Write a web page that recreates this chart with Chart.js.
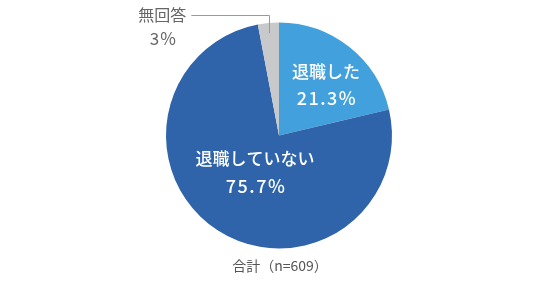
<!DOCTYPE html>
<html>
<head>
<meta charset="utf-8">
<script src="https://cdn.jsdelivr.net/npm/chart.js@4"></script>
<style>
  html, body { margin: 0; padding: 0; background: #fff; }
  #wrap { width: 560px; height: 284px; position: relative; }
</style>
</head>
<body>
<div id="wrap"><canvas id="pie-chart" width="560" height="284"></canvas></div>
<script>
// Chart data
var categories = ['退職した', '退職していない', '無回答'];
var values = [21.3, 75.7, 3];
var valueLabels = ['21.3%', '75.7%', '3%'];
var totalLabel = '合計（n=609）';

var sliceColors = ['#42a1dd', '#2f64aa', '#c8c9cb'];
var fontFamily = '"Noto Sans CJK JP", "Noto Sans", sans-serif';

// Draws the in-slice labels, the callout for the small slice and the total
var labelPlugin = {
  id: 'pieLabels',
  afterDatasetsDraw: function (chart) {
    var ctx = chart.ctx;
    var arcs = chart.getDatasetMeta(0).data;
    // per slice: radius fraction and angle shift (radians) of the label block
    var inside = [
      { r: 0.61, shift: 0.08 },
      { r: 0.39, shift: 0.0 }
    ];

    ctx.save();
    ctx.textAlign = 'center';
    ctx.textBaseline = 'middle';
    ctx.fillStyle = '#ffffff';
    for (var i = 0; i < inside.length; i++) {
      var a = arcs[i];
      var mid = (a.startAngle + a.endAngle) / 2 + inside[i].shift;
      var x = a.x + Math.cos(mid) * a.outerRadius * inside[i].r;
      var y = a.y + Math.sin(mid) * a.outerRadius * inside[i].r;
      ctx.letterSpacing = '0px';
      ctx.font = '500 17px ' + fontFamily;
      ctx.fillText(categories[i], x, y - 13.5);
      ctx.letterSpacing = '1.5px';
      ctx.font = '500 18px ' + fontFamily;
      ctx.fillText(valueLabels[i], x + 1, y + 13.5);
    }

    // callout for the small slice
    var s = arcs[2];
    var m = (s.startAngle + s.endAngle) / 2;
    var px = s.x + Math.cos(m) * s.outerRadius * 0.91;
    var py = s.y + Math.sin(m) * s.outerRadius * 0.91;
    var topY = s.y - s.outerRadius - 8;
    var endX = px - 78;
    ctx.strokeStyle = '#999999';
    ctx.lineWidth = 1;
    ctx.beginPath();
    ctx.moveTo(Math.round(px) + 0.5, py);
    ctx.lineTo(Math.round(px) + 0.5, Math.round(topY) + 0.5);
    ctx.lineTo(endX, Math.round(topY) + 0.5);
    ctx.stroke();

    ctx.fillStyle = '#666666';
    ctx.letterSpacing = '0px';
    ctx.font = '16px ' + fontFamily;
    ctx.fillText(categories[2], endX - 29, topY);
    ctx.letterSpacing = '1px';
    ctx.font = '17px ' + fontFamily;
    ctx.fillText(valueLabels[2], endX - 28, topY + 24);

    // total
    ctx.fillStyle = '#555555';
    ctx.letterSpacing = '0px';
    ctx.font = '14px ' + fontFamily;
    ctx.fillText(totalLabel, s.x + 1, s.y + s.outerRadius + 17);
    ctx.restore();
  }
};

function createPieChart() {
  var ctx = document.getElementById('pie-chart').getContext('2d');
  new Chart(ctx, {
    type: 'pie',
    data: {
      labels: categories,
      datasets: [{
        data: values,
        backgroundColor: sliceColors,
        borderWidth: 0
      }]
    },
    options: {
      responsive: false,
      animation: false,
      layout: {
        padding: { top: 22.5, bottom: 35.5, left: 0, right: 2 }
      },
      plugins: {
        legend: { display: false },
        tooltip: { enabled: false }
      }
    },
    plugins: [labelPlugin]
  });
}

document.addEventListener('DOMContentLoaded', function () {
  createPieChart();
});
</script>
</body>
</html>
